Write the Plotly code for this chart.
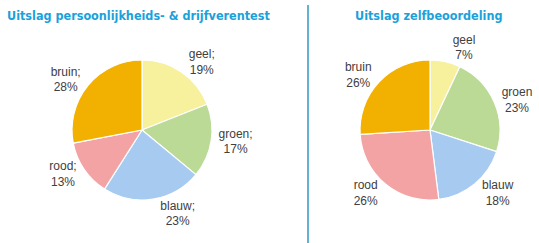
import plotly.graph_objects as go

categories = ["geel", "groen", "blauw", "rood", "bruin"]
test_values = [19, 17, 23, 13, 28]
self_values = [7, 23, 18, 26, 26]
colors = ["#F7F09C", "#BADA95", "#A6CAF0", "#F3A3A3", "#F2B100"]

W, H = 539, 243
fig = go.Figure()

def dom(cx, cy, r):
    return dict(x=[(cx - r) / W, (cx + r) / W], y=[1 - (cy + r) / H, 1 - (cy - r) / H])

label_font = dict(family="Liberation Sans", size=12, color="#404040")

fig.add_trace(go.Pie(
    labels=categories, values=test_values, sort=False, direction="clockwise", rotation=0,
    marker=dict(colors=colors, line=dict(color="white", width=1.2)),
    texttemplate="%{label};<br>%{value}%", textposition="outside",
    textfont=label_font,
    domain=dom(142, 130, 70), showlegend=False, hoverinfo="label+value",
))
fig.add_trace(go.Pie(
    labels=categories, values=self_values, sort=False, direction="clockwise", rotation=0,
    marker=dict(colors=colors, line=dict(color="white", width=1.2)),
    texttemplate="%{label}<br>%{value}%", textposition="outside",
    textfont=label_font,
    domain=dom(430, 130, 70), showlegend=False, hoverinfo="label+value",
))

fig.add_shape(type="line", xref="paper", yref="paper", x0=308 / W, x1=308 / W, y0=0, y1=1 - 5 / H,
              line=dict(color="#2E9AC4", width=1.5))

title_font = dict(family="DejaVu Sans Condensed", size=12.5, color="#1BA1DA")
fig.add_annotation(text="<b>Uitslag persoonlijkheids- &amp; drijfverentest</b>", xref="paper", yref="paper",
                   x=5 / W, y=1 - 15 / H, xanchor="left", yanchor="middle", showarrow=False, font=title_font)
fig.add_annotation(text="<b>Uitslag zelfbeoordeling</b>", xref="paper", yref="paper",
                   x=429 / W, y=1 - 15 / H, xanchor="center", yanchor="middle", showarrow=False, font=title_font)

fig.update_layout(width=W, height=H, margin=dict(l=0, r=0, t=0, b=0),
                  paper_bgcolor="white", plot_bgcolor="white")
fig.write_html("out.html")
